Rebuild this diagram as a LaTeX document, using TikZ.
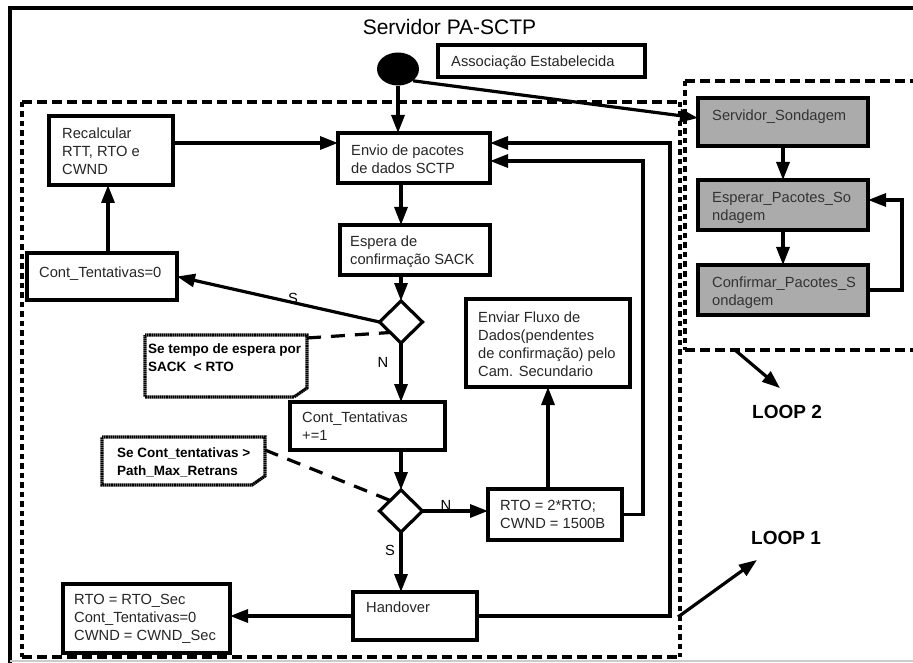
\documentclass[tikz,border=0pt]{standalone}
\usepackage{fontspec}
\setmainfont{Liberation Sans}
\usetikzlibrary{arrows.meta,shapes.geometric}

\begin{document}
\begin{tikzpicture}[x=1pt,y=-1pt,
  every node/.style={font=\fontsize{14.7}{18}\selectfont},
  box/.style={draw, line width=3.2pt, rectangle, inner sep=0pt, outer sep=0pt, anchor=north west},
  probe/.style={box, fill=black!33},
  txt/.style={anchor=north west, inner sep=0pt, align=left, text=black!85},
  probetxt/.style={txt, text=black!80},
  notetxt/.style={anchor=north west, inner sep=0pt, align=left,
    font=\fontsize{13.5}{18}\selectfont\bfseries},
  region/.style={rectangle, inner sep=0pt, outer sep=0pt, anchor=north west},
  hdash/.style={line width=4pt, dash pattern=on 10pt off 5pt},
  vdash/.style={line width=4pt, dash pattern=on 5.5pt off 4pt},
  notedot/.style={line width=3.2pt, dash pattern=on 1.6pt off 0.5pt},
  decision/.style={draw, diamond, line width=3.2pt, inner sep=0pt, outer sep=0pt,
    minimum width=43pt, minimum height=42pt},
  arr/.style={line width=3.2pt, -{Triangle[length=18pt,width=13pt]}},
  link/.style={line width=3.2pt, dash pattern=on 14pt off 10pt},
  tag/.style={inner sep=0pt},
  looptag/.style={inner sep=0pt, font=\fontsize{19}{22}\selectfont\bfseries}
]
\useasboundingbox (0,0) rectangle (913,663);
\fill[white] (0,0) rectangle (913,663);
\clip (0,0) rectangle (913,663);

% outer frame
\draw[line width=3.5pt] (10,663) -- (10,8) -- (913,8);
\draw[line width=1.5pt, black!20] (10,661) -- (913,661);
\node[inner sep=0pt, font=\fontsize{21}{24}\selectfont] (title) at (449.5,27) {Servidor PA-SCTP};

% dashed regions
\node[region, minimum width=658pt, minimum height=555pt] (loopone) at (22,102) {};
\draw[hdash] (loopone.north west) -- (loopone.north east);
\draw[hdash] (loopone.south west) -- (loopone.south east);
\draw[vdash] (loopone.north west) -- (loopone.south west);
\draw[vdash] (loopone.north east) -- (loopone.south east);

\node[region, minimum width=260pt, minimum height=269pt] (looptwo) at (685,81) {};
\draw[hdash] (looptwo.north west) -- (looptwo.north east);
\draw[hdash] (looptwo.south west) -- (looptwo.south east);
\draw[vdash] (looptwo.north west) -- (looptwo.south west);

% start state
\node[ellipse, fill=black, inner sep=0pt, minimum width=42pt, minimum height=33pt] (start) at (398,69) {};
\node[box, minimum width=207pt, minimum height=32pt] (assoc) at (438,45) {};
\node[txt] (assoc-t) at (451,53.6) {\strut Associação Estabelecida};

% main flow boxes
\node[box, minimum width=152pt, minimum height=50pt] (envio) at (338,133) {};
\node[txt] (envio-t) at (351,142.6) {\strut Envio de pacotes\\de dados SCTP};

\node[box, minimum width=124pt, minimum height=69pt] (recalc) at (49,116) {};
\node[txt] (recalc-t) at (62,125.6) {\strut Recalcular\\RTT, RTO e\\CWND};

\node[box, minimum width=150pt, minimum height=50pt] (espera) at (340,225) {};
\node[txt] (espera-t) at (350,233.6) {\strut Espera de\\confirmação SACK};

\node[box, minimum width=150pt, minimum height=47pt] (zero) at (27,253) {};
\node[txt] (zero-t) at (39,264.6) {\strut Cont\_Tentativas=0};

\node[box, minimum width=155pt, minimum height=48pt] (incr) at (290,402) {};
\node[txt] (incr-t) at (302,409.6) {\strut Cont\_Tentativas\\+=1};

\node[box, minimum width=164pt, minimum height=88pt] (fluxo) at (466,299) {};
\node[txt] (fluxo-t) at (478,309.6) {\strut Enviar Fluxo de\\Dados(pendentes\\de confirmação) pelo\\Cam. Secundario};

\node[box, minimum width=134pt, minimum height=51pt] (dobra) at (488,489) {};
\node[txt] (dobra-t) at (500,497.6) {\strut RTO = 2*RTO;\\CWND = 1500B};

\node[box, minimum width=124pt, minimum height=48pt] (handover) at (353,592) {};
\node[txt] (handover-t) at (366,599.6) {\strut Handover};

\node[box, minimum width=167pt, minimum height=69pt] (sec) at (63,584) {};
\node[txt] (sec-t) at (74,591.6) {\strut RTO = RTO\_Sec\\Cont\_Tentativas=0\\CWND = CWND\_Sec};

% decisions
\node[decision] (dtime) at (401,322) {};
\node[decision] (dretr) at (401,511) {};

% notes with a folded corner
\node[region, minimum width=162pt, minimum height=62pt] (noteone) at (145,335) {};
\draw[notedot] (noteone.north west) -- (noteone.north east) -- ([yshift=9pt]noteone.south east)
  -- ([xshift=-13pt]noteone.south east) -- (noteone.south west) -- cycle;
\fill ([xshift=-13pt]noteone.south east) -- ([xshift=-6pt,yshift=6pt]noteone.south east) -- ([yshift=9pt]noteone.south east) -- cycle;
\node[notetxt] (noteone-t) at (148,340.2) {\strut Se tempo de espera por\\SACK~ < RTO};

\node[region, minimum width=163pt, minimum height=48pt] (notetwo) at (102,437) {};
\draw[notedot] (notetwo.north west) -- (notetwo.north east) -- ([yshift=9pt]notetwo.south east)
  -- ([xshift=-13pt]notetwo.south east) -- (notetwo.south west) -- cycle;
\fill ([xshift=-13pt]notetwo.south east) -- ([xshift=-6pt,yshift=6pt]notetwo.south east) -- ([yshift=9pt]notetwo.south east) -- cycle;
\node[notetxt] (notetwo-t) at (117,444.2) {\strut Se Cont\_tentativas >\\Path\_Max\_Retrans};

% probing boxes
\node[probe, minimum width=170pt, minimum height=48pt] (sond) at (698,98) {};
\node[probetxt] (sond-t) at (712,107.6) {\strut Servidor\_Sondagem};
\node[probe, minimum width=170pt, minimum height=50pt] (espsond) at (698,180) {};
\node[probetxt] (espsond-t) at (712,189.6) {\strut Esperar\_Pacotes\_So\\ndagem};
\node[probe, minimum width=170pt, minimum height=50pt] (confsond) at (698,265) {};
\node[probetxt] (confsond-t) at (712,274.6) {\strut Confirmar\_Pacotes\_S\\ondagem};

% bend points of the return lines
\coordinate (bendin) at (643,300);
\coordinate (bendout) at (670,300);
\coordinate (bendprobe) at (902,250);

% connectors
\draw[arr] (start.south) -- (start.south |- envio.north);
\draw[arr] (start.south east) -- ([yshift=4pt]sond.west);
\draw[arr] ([yshift=7.5pt]recalc.east) -- ([yshift=7.5pt]recalc.east -| envio.west);
\draw[arr] (dtime |- envio.south) -- (dtime |- espera.north);
\draw[arr] (dtime |- espera.south) -- (dtime.north);
\draw[arr] (dtime.west) -- (zero.east);
\draw[arr] ([xshift=6pt]zero.north) -- ([xshift=6pt]zero.north |- recalc.south);
\draw[arr] (dtime.south) -- (dtime.south |- incr.north);
\draw[arr] (dretr |- incr.south) -- (dretr.north);
\draw[arr] (dretr.east) -- (dretr.east -| dobra.west);
\draw[arr] (fluxo.south |- dobra.north) -- (fluxo.south);
\draw[arr] (dobra.east) -| (bendin) |- ([yshift=-3pt]envio.east);
\draw[arr] (dretr.south) -- (dretr.south |- handover.north);
\draw[arr] (handover.west) -- (handover.west -| sec.east);
\draw[arr] (handover.east) -| (bendout) |- ([yshift=15pt]envio.east);
\draw[link] ([yshift=-3pt]noteone.north east) -- (dtime.south west);
\draw[link] ([yshift=-13pt]notetwo.north east) -- (dretr.north west);

\draw[arr] (sond.south) -- (sond.south |- espsond.north);
\draw[arr] (espsond.south) -- (espsond.south |- confsond.north);
\draw[arr] (confsond.east) -| (bendprobe) |- ([yshift=5pt]espsond.east);

% branch labels
\node[tag] (ys) at (293,298) {S};
\node[tag] (yn) at (383,362) {N};
\node[tag] (rn) at (446,505) {N};
\node[tag] (rs) at (390,550) {S};

% loop labels
\node[looptag] (looptwo-t) at (787,412) {LOOP 2};
\node[looptag] (loopone-t) at (786,538) {LOOP 1};
\coordinate (looptwo-from) at (735,350);
\coordinate (loopone-from) at (678,617);
\draw[arr] (looptwo-from) -- ([xshift=-7pt,yshift=17pt]looptwo-t.north);
\draw[arr] (loopone-from) -- ([xshift=-29pt,yshift=-15pt]loopone-t.south);
\end{tikzpicture}
\end{document}
